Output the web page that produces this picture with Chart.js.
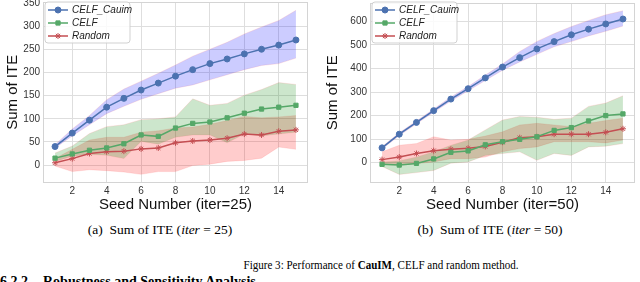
<!DOCTYPE html>
<html><head><meta charset="utf-8">
<script src="https://cdn.jsdelivr.net/npm/chart.js@4.4.1/dist/chart.umd.min.js"></script>
<style>
html,body{margin:0;padding:0;background:#fff;}
body{width:640px;height:282px;overflow:hidden;position:relative;font-family:'Liberation Serif','Times New Roman',serif;color:#000;}
canvas{position:absolute;}
#c1{left:0;top:-7px;}
#c2{left:320px;top:-7px;}
.cap{position:absolute;white-space:nowrap;font-size:13.5px;line-height:1;text-align:center;}
.head{position:absolute;white-space:nowrap;font-size:14px;line-height:1;font-weight:bold;}
</style></head><body>
<canvas id="c1" width="313" height="222"></canvas>
<canvas id="c2" width="320" height="222"></canvas>
<div class="cap" style="left:60px;width:200px;top:223px">(a)&nbsp;&nbsp;Sum of ITE (<i>iter</i> = 25)</div>
<div class="cap" style="left:390px;width:200px;top:223px">(b)&nbsp;&nbsp;Sum of ITE (<i>iter</i> = 50)</div>
<div class="cap" style="left:181px;width:400px;top:258px;font-size:13px;transform:scaleX(0.85);transform-origin:50% 50%">Figure 3: Performance of <b>CauIM</b>, CELF and random method.</div>
<div class="head" style="left:0;top:274.5px">6.2.2</div>
<div class="head" style="left:43px;top:274.5px">Robustness and Sensitivity Analysis</div>
<script>
// ---- data ----
const seeds = [1,2,3,4,5,6,7,8,9,10,11,12,13,14,15];
const xTicks = [2,4,6,8,10,12,14];
const yTicks25 = [0,50,100,150,200,250,300,350];
const yTicks50 = [0,100,200,300,400,500,600];
const seriesNames = ['CELF_Cauim','CELF','Random'];

// iter = 25
const cauim25      = [40, 69, 97, 125, 144, 162, 177, 192, 206, 219, 229, 240, 250, 259, 270];
const cauim25Upper = [44, 78, 107, 141, 164, 181, 198, 216, 235, 250, 265, 283, 298, 312, 334];
const cauim25Lower = [37, 63, 87, 111, 127, 142, 154, 166, 173, 184, 195, 206, 215, 219, 231];
const celf25       = [15, 24, 32, 37, 46, 65, 62, 80, 90, 93, 102, 112, 121, 125, 129];
const celf25Upper  = [26, 41, 68, 83, 87, 98, 100, 104, 143, 129, 133, 151, 163, 178, 174];
const celf25Lower  = [8, 19, 23, 21, 14, 51, 45, 60, 65, 65, 48, 67, 63, 67, 71];
const rand25       = [5, 14, 25, 29, 30, 35, 37, 48, 52, 54, 58, 67, 65, 73, 76];
const rand25Upper  = [14, 34, 54, 60, 60, 71, 74, 80, 82, 88, 96, 105, 102, 104, 107];
const rand25Lower  = [-2, -14, -10, -12, -15, -20, -14, -14, -1, 2, 8, 10, 15, 39, 34];

// iter = 50
const cauim50      = [63, 121, 171, 221, 270, 314, 360, 406, 446, 483, 514, 543, 567, 589, 610];
const cauim50Upper = [68, 127, 177, 228, 279, 323, 372, 419, 472, 515, 548, 578, 604, 628, 645];
const cauim50Lower = [58, 115, 165, 214, 262, 305, 349, 392, 428, 460, 492, 514, 538, 558, 580];
const celf50       = [-7, -10, -3, 16, 44, 50, 76, 89, 99, 110, 137, 149, 177, 200, 207];
const celf50Upper  = [3, 8, 24, 46, 74, 96, 139, 181, 196, 193, 184, 189, 239, 253, 284];
const celf50Lower  = [-16, -50, -42, -33, -2, 3, 31, 39, 46, 10, 39, 31, 67, 70, 81];
const rand50       = [13, 24, 39, 51, 57, 61, 69, 87, 106, 110, 121, 121, 121, 129, 144];
const rand50Upper  = [46, 74, 81, 110, 96, 99, 113, 131, 160, 167, 160, 153, 167, 179, 189];
const rand50Lower  = [-7, -11, -4, 3, 17, 17, 24, 46, 60, 67, 89, 89, 89, 84, 96];

// ---- styling ----
Chart.defaults.font.family = "'Liberation Sans', Arial, sans-serif";
const lineColors = ['#4C72B0', '#55A868', '#C44E52'];
const pointStyles = ['circle', 'rect', 'star'];
const pointRadii = [3, 3, 3];
const bandColors = ['rgba(0,0,255,0.2)', 'rgba(0,128,0,0.2)', 'rgba(255,0,0,0.2)'];
const gridColor = '#dedede';
const tickColor = '#333';

const pts = vals => seeds.map((s, i) => ({x: s, y: vals[i]}));

function lineDs(i, vals) {
  return {
    label: seriesNames[i], data: pts(vals), borderColor: lineColors[i], backgroundColor: lineColors[i],
    borderWidth: 1.5, pointStyle: pointStyles[i], pointRadius: pointRadii[i], pointBorderWidth: 1,
    pointBorderColor: lineColors[i], pointBackgroundColor: lineColors[i], fill: false, tension: 0
  };
}
function bandDs(i, up, lo) {
  return [
    {label: '_up' + i, data: pts(up), borderColor: 'rgba(255,140,140,0.25)', borderWidth: 0.8,
     pointRadius: 0, backgroundColor: bandColors[i], fill: {target: '+1'}, tension: 0},
    {label: '_lo' + i, data: pts(lo), borderColor: 'rgba(255,140,140,0.25)', borderWidth: 0.8,
     pointRadius: 0, fill: false, tension: 0}
  ];
}

const framePlugin = {
  id: 'frame',
  afterDatasetsDraw(chart) {
    const {ctx, chartArea: a} = chart;
    ctx.save();
    ctx.strokeStyle = '#d4d4d4'; ctx.lineWidth = 1;
    ctx.strokeRect(Math.round(a.left) + 0.5, Math.round(a.top) + 0.5,
                   Math.round(a.right - a.left) - 1, Math.round(a.bottom - a.top) - 1);
    ctx.restore();
  }
};

const legendPlugin = {
  id: 'mplLegend',
  afterDraw(chart, args, opts) {
    const {ctx, chartArea: a} = chart;
    const bx = a.left + 2, by = opts.top, bw = 85, bh = 41, r = 3;
    ctx.save();
    ctx.beginPath();
    ctx.moveTo(bx + r, by); ctx.lineTo(bx + bw - r, by); ctx.quadraticCurveTo(bx + bw, by, bx + bw, by + r);
    ctx.lineTo(bx + bw, by + bh - r); ctx.quadraticCurveTo(bx + bw, by + bh, bx + bw - r, by + bh);
    ctx.lineTo(bx + r, by + bh); ctx.quadraticCurveTo(bx, by + bh, bx, by + bh - r);
    ctx.lineTo(bx, by + r); ctx.quadraticCurveTo(bx, by, bx + r, by);
    ctx.closePath();
    ctx.fillStyle = 'rgba(255,255,255,0.85)'; ctx.fill();
    ctx.strokeStyle = 'rgba(204,204,204,0.9)'; ctx.lineWidth = 1; ctx.stroke();
    for (let i = 0; i < 3; i++) {
      const ds = chart.data.datasets[i];
      const y = by + 8 + i * 13;
      ctx.strokeStyle = ds.borderColor; ctx.lineWidth = 1.5;
      ctx.beginPath(); ctx.moveTo(bx + 3, y); ctx.lineTo(bx + 23, y); ctx.stroke();
      ctx.fillStyle = ds.borderColor; ctx.lineWidth = 1;
      Chart.helpers.drawPoint(ctx, {pointStyle: ds.pointStyle, radius: ds.pointRadius, rotation: 0, borderWidth: 1}, bx + 13, y);
      ctx.fillStyle = '#222';
      ctx.font = "italic 10px 'Liberation Sans', Arial, sans-serif";
      ctx.textBaseline = 'middle'; ctx.textAlign = 'left';
      ctx.fillText(ds.label, bx + 27, y + 0.5);
    }
    ctx.restore();
  }
};

function makeChart(id, d, yMin, yMax, yTicks, yWidth, padTop, xTitle, legendTop) {
  const datasets = [
    lineDs(0, d[0]), lineDs(1, d[3]), lineDs(2, d[6]),
    ...bandDs(0, d[1], d[2]), ...bandDs(1, d[4], d[5]), ...bandDs(2, d[7], d[8])
  ];
  return new Chart(document.getElementById(id), {
    type: 'line',
    data: {datasets},
    options: {
      responsive: false, animation: false, devicePixelRatio: 1,
      layout: {padding: {top: padTop, left: 0, right: 1, bottom: 0}},
      plugins: {legend: {display: false}, tooltip: {enabled: false}, mplLegend: {top: legendTop}},
      scales: {
        x: {
          type: 'linear', min: 0.3, max: 15.7,
          afterBuildTicks: s => { s.ticks = xTicks.map(v => ({value: v})); },
          afterFit: s => { s.height = 32.3; },
          ticks: {color: tickColor, font: {size: 10}, padding: 3, autoSkip: false, maxRotation: 0},
          grid: {color: gridColor, drawTicks: false, lineWidth: 1},
          border: {display: false},
          title: {display: true, text: xTitle, color: '#111', font: {size: 15}, padding: {top: 0, bottom: 1}}
        },
        y: {
          type: 'linear', min: yMin, max: yMax,
          afterBuildTicks: s => { s.ticks = yTicks.map(v => ({value: v})); },
          afterFit: s => { s.width = yWidth; },
          ticks: {color: tickColor, font: {size: 10}, padding: 3},
          grid: {color: gridColor, drawTicks: false, lineWidth: 1},
          border: {display: false},
          title: {display: true, text: 'Sum of ITE', color: '#111', font: {size: 15}, padding: {top: 4, bottom: 0}}
        }
      }
    },
    plugins: [framePlugin, legendPlugin]
  });
}

makeChart('c1', [cauim25, cauim25Upper, cauim25Lower, celf25, celf25Upper, celf25Lower, rand25, rand25Upper, rand25Lower],
  -38, 352, yTicks25, 43, 7, 'Seed Number (iter=25)', 9);
makeChart('c2', [cauim50, cauim50Upper, cauim50Lower, celf50, celf50Upper, celf50Lower, rand50, rand50Upper, rand50Lower],
  -85, 678, yTicks50, 50, 10, 'Seed Number (iter=50)', 9);
</script>
</body></html>
